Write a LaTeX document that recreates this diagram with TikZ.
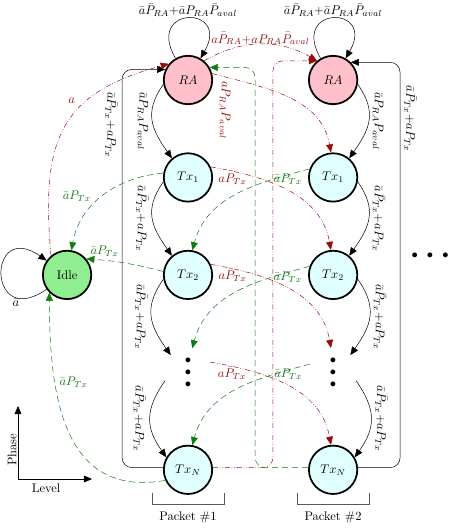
\documentclass[tikz,border=0pt]{standalone}
\usepackage{amsmath,amssymb}
\usepackage{xcolor}
\usepackage{tikz}
\usetikzlibrary{positioning,arrows.meta}

\definecolor{rapink}{RGB}{255,192,203}
\definecolor{txcyan}{RGB}{224,255,255}
\definecolor{idlegreen}{RGB}{144,238,144}
\definecolor{fwdred}{RGB}{150,15,15}
\definecolor{backgreen}{RGB}{20,120,20}

\newcommand{\bigvdots}{$\bullet$\\[-2.4pt]$\bullet$\\[-2.4pt]$\bullet$}

\begin{document}
\begin{tikzpicture}[
    state/.style={circle, draw, line width=1.4pt, minimum size=1.36cm, inner sep=0pt},
    dotstack/.style={circle, minimum size=1.36cm, inner sep=0pt, align=center},
    arr/.style={-{Triangle[length=6.5pt, width=5.5pt]}},
    fwd/.style={arr, fwdred, dash pattern=on 4pt off 1.5pt on 0.5pt off 1.5pt on 0.5pt off 1.5pt},
    back/.style={arr, backgreen, dash pattern=on 5pt off 3pt},
    bracket/.style={black!65},
    node distance=2.74cm and 4.08cm, on grid
]
\useasboundingbox (-150.4pt,-359.2pt) rectangle (209.6pt,64pt);

% packet #1
\node[state, fill=rapink] (p1ra) {$RA$};
\node[state, fill=txcyan, below=of p1ra] (p1tx1) {$Tx_1$};
\node[state, fill=txcyan, below=of p1tx1] (p1tx2) {$Tx_2$};
\node[dotstack, below=of p1tx2] (p1dots) {\bigvdots};
\node[state, fill=txcyan, below=of p1dots] (p1txn) {$Tx_N$};
% packet #2
\node[state, fill=rapink, right=of p1ra] (p2ra) {$RA$};
\node[state, fill=txcyan, below=of p2ra] (p2tx1) {$Tx_1$};
\node[state, fill=txcyan, below=of p2tx1] (p2tx2) {$Tx_2$};
\node[dotstack, below=of p2tx2] (p2dots) {\bigvdots};
\node[state, fill=txcyan, below=of p2dots] (p2txn) {$Tx_N$};

\node[state, fill=idlegreen, left=3.4cm of p1tx2] (idle) {Idle};
\node[above right=15pt and 77.6pt of p2tx2] (more) {$\bullet\hspace{5pt}\bullet\hspace{5pt}\bullet$};

% within packet #1
\draw[arr] (idle) to[out=215, in=145, looseness=6.5] node[below, pos=0.22, inner sep=1pt] {$\bar a$} (idle);
\draw[arr] (p1ra) to[out=120, in=60, looseness=6.3] node[above, inner sep=1pt] {$\bar a\bar P_{RA}{+}\bar aP_{RA}\bar P_{aval}$} (p1ra);
\draw[arr] (p1ra.190) to[out=235, in=125, looseness=1.2] node[rotate=-90, anchor=north] {$\bar aP_{RA}P_{aval}$} (p1tx1.130);
\draw[arr] (p1tx1.190) to[out=235, in=125, looseness=1.2] node[rotate=-90, anchor=north] {$\bar a\bar P_{Tx}{+}aP_{Tx}$} (p1tx2.130);
\draw[arr] (p1tx2.190) to[out=235, in=125, looseness=1.2] node[rotate=-90, anchor=north] {$\bar a\bar P_{Tx}{+}aP_{Tx}$} (p1dots.135);
\draw[arr] (p1dots.200) to[out=235, in=125, looseness=1.2] node[rotate=-90, anchor=north] {$\bar a\bar P_{Tx}{+}aP_{Tx}$} (p1txn.150);
\draw[arr, rounded corners=8pt] (p1txn.175) -- ++(-32.8pt,0) |- node[pos=0.43, rotate=-90, anchor=north] {$\bar a\bar P_{Tx}{+}aP_{Tx}$} (p1ra.155);

% within packet #2
\draw[arr] (p2ra) to[out=120, in=60, looseness=6.3] node[above, inner sep=1pt] {$\bar a\bar P_{RA}{+}\bar aP_{RA}\bar P_{aval}$} (p2ra);
\draw[arr] (p2ra.-10) to[out=-55, in=55, looseness=1.2] node[rotate=-90, anchor=south] {$\bar aP_{RA}P_{aval}$} (p2tx1.50);
\draw[arr] (p2tx1.-10) to[out=-55, in=55, looseness=1.2] node[rotate=-90, anchor=south] {$\bar a\bar P_{Tx}{+}aP_{Tx}$} (p2tx2.50);
\draw[arr] (p2tx2.-10) to[out=-55, in=55, looseness=1.2] node[rotate=-90, anchor=south] {$\bar a\bar P_{Tx}{+}aP_{Tx}$} (p2dots.45);
\draw[arr] (p2dots.-20) to[out=-55, in=55, looseness=1.2] node[rotate=-90, anchor=south] {$\bar a\bar P_{Tx}{+}aP_{Tx}$} (p2txn.30);
\draw[arr, rounded corners=8pt] (p2txn.5) -- ++(33.6pt,0) |- node[pos=0.43, rotate=-90, anchor=south] {$\bar a\bar P_{Tx}{+}aP_{Tx}$} (p2ra.45);

% arrivals: next level
\draw[fwd] (idle.130) to[out=95, in=195, looseness=1.3] node[above left, pos=0.62] {$a$} (p1ra.140);
\draw[fwd] (p1ra.50) to[out=30, in=150] node[above=-4pt] {$a\bar P_{RA}{+}aP_{RA}\bar P_{aval}$} (p2ra.130);
\draw[fwd] (p1ra.15) to[out=-15, in=100] node[pos=0.08, rotate=-90, anchor=west] {$aP_{RA}P_{aval}$} (p2tx1.95);
\draw[fwd] (p1tx1.25) to[out=-10, in=100] node[below right, pos=0.02] {$a\bar P_{Tx}$} (p2tx2.95);
\draw[fwd] (p1tx2.25) to[out=-10, in=100] node[below right, pos=0.02] {$a\bar P_{Tx}$} (p2dots.95);
\draw[fwd] (p1dots.25) to[out=-10, in=100] node[below right, pos=0.02] {$a\bar P_{Tx}$} (p2txn.95);
\draw[fwd, rounded corners=8pt] (p1txn.5) -- ++(48pt,0) |- (p2ra.130);

% no arrival: previous level
\draw[back] (p1tx1.170) to[out=185, in=80] node[left=6pt, pos=0.5] {$\bar aP_{Tx}$} (idle.80);
\draw[back] (p1tx2.172) to[bend right=5] node[above, pos=0.78] {$\bar aP_{Tx}$} (idle.40);
\draw[back] (p1txn.205) to[out=190, in=270, looseness=1.2] node[right, pos=0.7] {$\bar aP_{Tx}$} (idle.225);
\draw[back] (p2tx1.160) to[out=195, in=75] node[below left, pos=0.02] {$\bar aP_{Tx}$} (p1tx2.80);
\draw[back] (p2tx2.160) to[out=195, in=75] node[below left, pos=0.02] {$\bar aP_{Tx}$} (p1dots.80);
\draw[back] (p2dots.160) to[out=195, in=75] node[below left, pos=0.02] {$\bar aP_{Tx}$} (p1txn.80);
\draw[back, rounded corners=8pt] (p2txn.175) -- ++(-42.4pt,0) |- (p1ra.30);

% axes and packets
\coordinate (origin) at (-136pt,-319.2pt);
\coordinate (phaseend) at (-136pt,-260.8pt);
\coordinate (levelend) at (-76.8pt,-319.2pt);
\draw[arr] (origin) -- node[pos=0.4, above, rotate=90, inner sep=1pt] {Phase} (phaseend);
\draw[arr] (origin) -- node[pos=0.38, below] {Level} (levelend);

\node[below=38.4pt of p1txn] (pkt1) {Packet \#1};
\node[below=38.4pt of p2txn] (pkt2) {Packet \#2};
\draw[bracket] ([xshift=-28.8pt, yshift=-18.4pt]p1txn.center) -- ++(0,-8.8pt) -| ([xshift=28.8pt, yshift=-18.4pt]p1txn.center);
\draw[bracket] ([xshift=-28.8pt, yshift=-18.4pt]p2txn.center) -- ++(0,-8.8pt) -| ([xshift=28.8pt, yshift=-18.4pt]p2txn.center);
\end{tikzpicture}
\end{document}
